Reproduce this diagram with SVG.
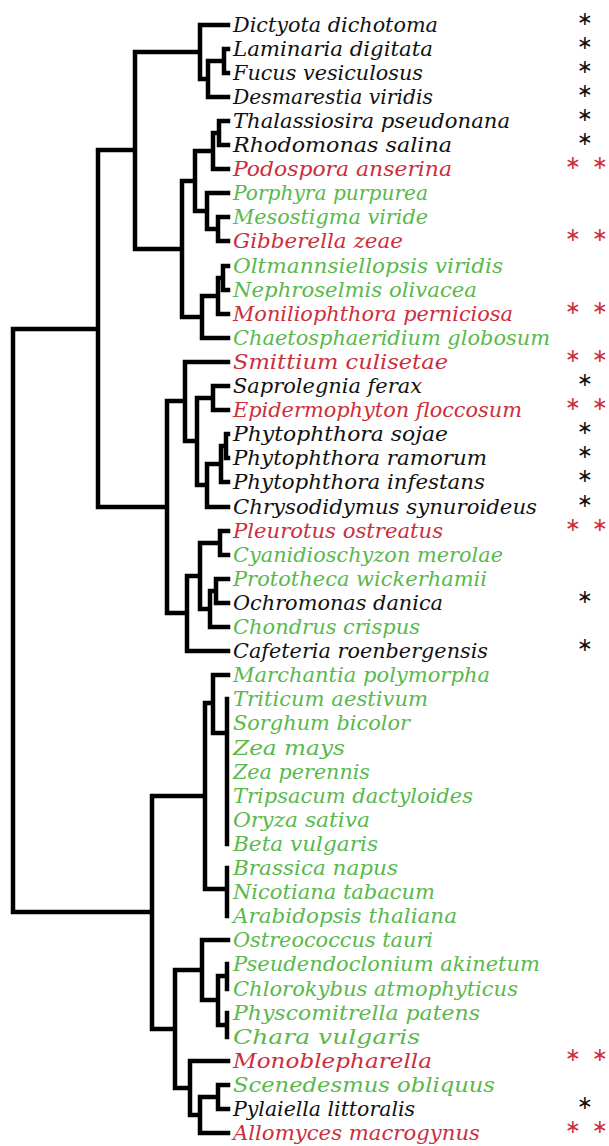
<svg xmlns="http://www.w3.org/2000/svg" width="609" height="1146" viewBox="0 0 609 1146">
<style>
.t{font-family:"DejaVu Serif","Liberation Serif",serif;font-style:italic;font-size:19.5px}
.k{fill:#111}.r{fill:#cc2e3c}.g{fill:#58b94c}
.s{font-family:"DejaVu Sans","Liberation Sans",sans-serif;font-size:19px;text-anchor:middle}
.e{fill:none;stroke:#000;stroke-width:4.5;stroke-linecap:square}
</style>
<rect width="609" height="1146" fill="#fff"/>
<g id="connectors" class="e">
<path d="M13 329V912M13 329H98M13 912H152M98 150V507
M135 52V249M98 150H135M200 25V79M135 52H200M200 25H228M200 79H208M208 61V97M208 61H224M208 97H228M224 49V73M224 49H228M224 73H228
M182 181V317M135 249H182M195 151V211M182 181H195M213 133V169M195 151H213M213 169H228M213 133H219M219 121V145M219 121H228M219 145H228
M207 193V229M195 211H207M207 193H228M207 229H218M218 217V241M218 217H228M218 241H228
M202 296V338M182 317H202M202 338H228M202 296H218M218 278V314M218 314H228M218 278H223M223 266V290M223 266H228M223 290H228
M167 401V613M98 507H167M185 362V441M167 401H185M185 362H228M185 441H197M197 398V485M197 398H213M197 485H207
M213 386V410M213 386H228M213 410H228M207 464V507M207 507H228M207 464H221M221 446V482M221 482H228M221 446H226M226 434V458M226 434H228M226 458H228
M187 576V651M167 613H187M187 651H228M187 576H200M200 543V609M200 543H220M200 609H210M220 531V555M220 531H228M220 555H228
M210 591V627M210 627H228M210 591H216M216 579V603M216 579H228M216 603H228
M152 796V1029M205 703V889M152 796H205M213 675V733M205 703H213M213 675H228M213 733H227M227 699V844M227 868V916M205 889H227
M175 970V1088M152 1029H175M202 940V1000M175 970H202M202 940H228M202 1000H218M218 976V1025M218 976H227M218 1025H227M227 964V989M227 1013V1037
M190 1061V1115M175 1088H190M190 1061H228M190 1115H200M200 1097V1133M200 1133H228M200 1097H218M218 1085V1109M218 1085H228M218 1109H228"/>
</g>
<g id="n1"><text class="t k" x="233" y="32" textLength="205" lengthAdjust="spacingAndGlyphs">Dictyota dichotoma</text><text class="s k" x="585" y="25">∗</text></g>
<g id="n2"><text class="t k" x="233" y="56" textLength="200" lengthAdjust="spacingAndGlyphs">Laminaria digitata</text><text class="s k" x="585" y="49">∗</text></g>
<g id="n3"><text class="t k" x="233" y="80" textLength="190" lengthAdjust="spacingAndGlyphs">Fucus vesiculosus</text><text class="s k" x="585" y="73">∗</text></g>
<g id="n4"><text class="t k" x="233" y="104" textLength="200" lengthAdjust="spacingAndGlyphs">Desmarestia viridis</text><text class="s k" x="585" y="97">∗</text></g>
<g id="n5"><text class="t k" x="233" y="128" textLength="277" lengthAdjust="spacingAndGlyphs">Thalassiosira pseudonana</text><text class="s k" x="585" y="121">∗</text></g>
<g id="n6"><text class="t k" x="233" y="152" textLength="219" lengthAdjust="spacingAndGlyphs">Rhodomonas salina</text><text class="s k" x="585" y="145">∗</text></g>
<g id="n7"><text class="t r" x="233" y="176" textLength="219" lengthAdjust="spacingAndGlyphs">Podospora anserina</text><text class="s r" x="573 600" y="169">∗∗</text></g>
<g id="n8"><text class="t g" x="233" y="200" textLength="195" lengthAdjust="spacingAndGlyphs">Porphyra purpurea</text></g>
<g id="n9"><text class="t g" x="233" y="224" textLength="195" lengthAdjust="spacingAndGlyphs">Mesostigma viride</text></g>
<g id="n10"><text class="t r" x="233" y="248" textLength="170" lengthAdjust="spacingAndGlyphs">Gibberella zeae</text><text class="s r" x="573 600" y="241">∗∗</text></g>
<g id="n11"><text class="t g" x="233" y="273" textLength="270" lengthAdjust="spacingAndGlyphs">Oltmannsiellopsis viridis</text></g>
<g id="n12"><text class="t g" x="233" y="297" textLength="244" lengthAdjust="spacingAndGlyphs">Nephroselmis olivacea</text></g>
<g id="n13"><text class="t r" x="233" y="321" textLength="280" lengthAdjust="spacingAndGlyphs">Moniliophthora perniciosa</text><text class="s r" x="573 600" y="314">∗∗</text></g>
<g id="n14"><text class="t g" x="233" y="345" textLength="317" lengthAdjust="spacingAndGlyphs">Chaetosphaeridium globosum</text></g>
<g id="n15"><text class="t r" x="233" y="369" textLength="215" lengthAdjust="spacingAndGlyphs">Smittium culisetae</text><text class="s r" x="573 600" y="362">∗∗</text></g>
<g id="n16"><text class="t k" x="233" y="393" textLength="189" lengthAdjust="spacingAndGlyphs">Saprolegnia ferax</text><text class="s k" x="585" y="386">∗</text></g>
<g id="n17"><text class="t r" x="233" y="417" textLength="289" lengthAdjust="spacingAndGlyphs">Epidermophyton floccosum</text><text class="s r" x="573 600" y="410">∗∗</text></g>
<g id="n18"><text class="t k" x="233" y="441" textLength="215" lengthAdjust="spacingAndGlyphs">Phytophthora sojae</text><text class="s k" x="585" y="434">∗</text></g>
<g id="n19"><text class="t k" x="233" y="465" textLength="254" lengthAdjust="spacingAndGlyphs">Phytophthora ramorum</text><text class="s k" x="585" y="458">∗</text></g>
<g id="n20"><text class="t k" x="233" y="489" textLength="252" lengthAdjust="spacingAndGlyphs">Phytophthora infestans</text><text class="s k" x="585" y="482">∗</text></g>
<g id="n21"><text class="t k" x="233" y="514" textLength="304" lengthAdjust="spacingAndGlyphs">Chrysodidymus synuroideus</text><text class="s k" x="585" y="507">∗</text></g>
<g id="n22"><text class="t r" x="233" y="538" textLength="210" lengthAdjust="spacingAndGlyphs">Pleurotus ostreatus</text><text class="s r" x="573 600" y="531">∗∗</text></g>
<g id="n23"><text class="t g" x="233" y="562" textLength="270" lengthAdjust="spacingAndGlyphs">Cyanidioschyzon merolae</text></g>
<g id="n24"><text class="t g" x="233" y="586" textLength="254" lengthAdjust="spacingAndGlyphs">Prototheca wickerhamii</text></g>
<g id="n25"><text class="t k" x="233" y="610" textLength="210" lengthAdjust="spacingAndGlyphs">Ochromonas danica</text><text class="s k" x="585" y="603">∗</text></g>
<g id="n26"><text class="t g" x="233" y="634" textLength="187" lengthAdjust="spacingAndGlyphs">Chondrus crispus</text></g>
<g id="n27"><text class="t k" x="233" y="658" textLength="255" lengthAdjust="spacingAndGlyphs">Cafeteria roenbergensis</text><text class="s k" x="585" y="651">∗</text></g>
<g id="n28"><text class="t g" x="233" y="682" textLength="257" lengthAdjust="spacingAndGlyphs">Marchantia polymorpha</text></g>
<g id="n29"><text class="t g" x="233" y="706" textLength="195" lengthAdjust="spacingAndGlyphs">Triticum aestivum</text></g>
<g id="n30"><text class="t g" x="233" y="730" textLength="177" lengthAdjust="spacingAndGlyphs">Sorghum bicolor</text></g>
<g id="n31"><text class="t g" x="233" y="755" textLength="112" lengthAdjust="spacingAndGlyphs">Zea mays</text></g>
<g id="n32"><text class="t g" x="233" y="779" textLength="137" lengthAdjust="spacingAndGlyphs">Zea perennis</text></g>
<g id="n33"><text class="t g" x="233" y="803" textLength="240" lengthAdjust="spacingAndGlyphs">Tripsacum dactyloides</text></g>
<g id="n34"><text class="t g" x="233" y="827" textLength="137" lengthAdjust="spacingAndGlyphs">Oryza sativa</text></g>
<g id="n35"><text class="t g" x="233" y="851" textLength="145" lengthAdjust="spacingAndGlyphs">Beta vulgaris</text></g>
<g id="n36"><text class="t g" x="233" y="875" textLength="165" lengthAdjust="spacingAndGlyphs">Brassica napus</text></g>
<g id="n37"><text class="t g" x="233" y="899" textLength="202" lengthAdjust="spacingAndGlyphs">Nicotiana tabacum</text></g>
<g id="n38"><text class="t g" x="233" y="923" textLength="224" lengthAdjust="spacingAndGlyphs">Arabidopsis thaliana</text></g>
<g id="n39"><text class="t g" x="233" y="947" textLength="200" lengthAdjust="spacingAndGlyphs">Ostreococcus tauri</text></g>
<g id="n40"><text class="t g" x="233" y="971" textLength="307" lengthAdjust="spacingAndGlyphs">Pseudendoclonium akinetum</text></g>
<g id="n41"><text class="t g" x="233" y="996" textLength="285" lengthAdjust="spacingAndGlyphs">Chlorokybus atmophyticus</text></g>
<g id="n42"><text class="t g" x="233" y="1020" textLength="247" lengthAdjust="spacingAndGlyphs">Physcomitrella patens</text></g>
<g id="n43"><text class="t g" x="233" y="1044" textLength="187" lengthAdjust="spacingAndGlyphs">Chara vulgaris</text></g>
<g id="n44"><text class="t r" x="233" y="1068" textLength="199" lengthAdjust="spacingAndGlyphs">Monoblepharella</text><text class="s r" x="573 600" y="1061">∗∗</text></g>
<g id="n45"><text class="t g" x="233" y="1092" textLength="262" lengthAdjust="spacingAndGlyphs">Scenedesmus obliquus</text></g>
<g id="n46"><text class="t k" x="233" y="1116" textLength="182" lengthAdjust="spacingAndGlyphs">Pylaiella littoralis</text><text class="s k" x="585" y="1109">∗</text></g>
<g id="n47"><text class="t r" x="233" y="1140" textLength="247" lengthAdjust="spacingAndGlyphs">Allomyces macrogynus</text><text class="s r" x="573 600" y="1133">∗∗</text></g>
</svg>
